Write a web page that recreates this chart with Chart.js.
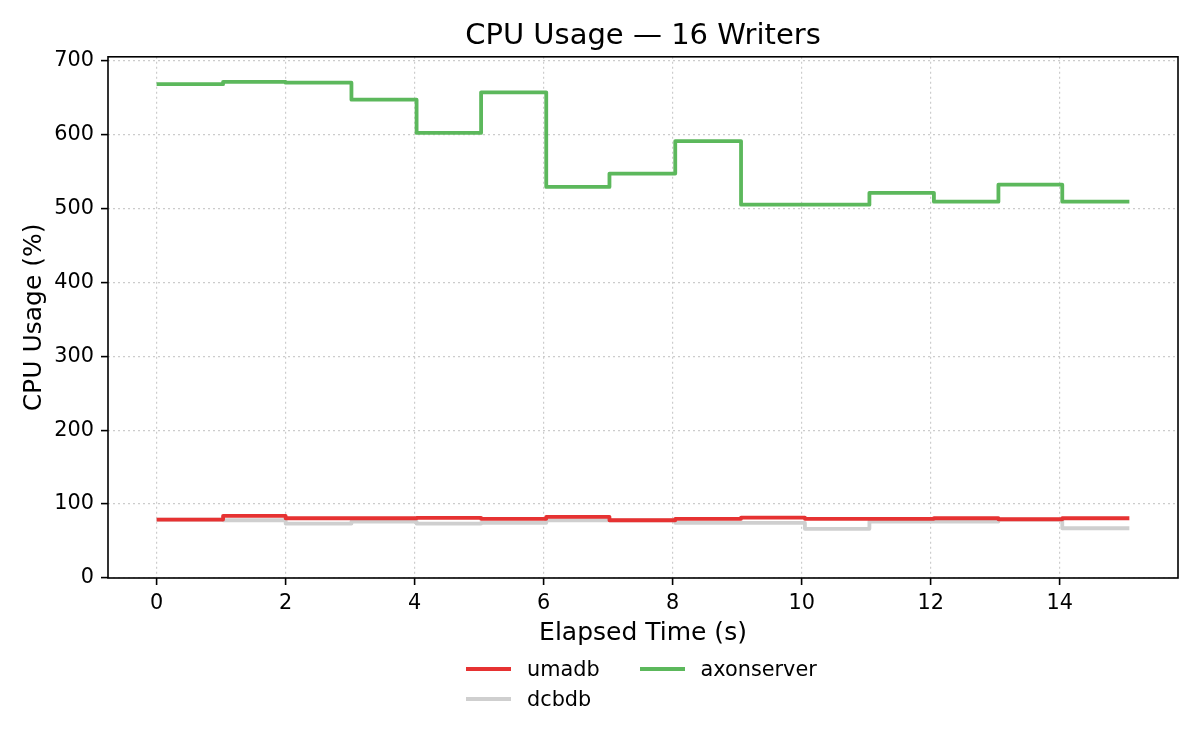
<!DOCTYPE html>
<html>
<head>
<meta charset="utf-8">
<script src="https://cdn.jsdelivr.net/npm/chart.js@4.4.1/dist/chart.umd.min.js"></script>
<style>
    html, body { margin: 0; padding: 0; background: #fff; }
    #chartContainer { position: relative; width: 1200px; height: 750px; }
    #legend {
        position: absolute; left: 466px; top: 654px;
        display: grid; grid-auto-flow: column; grid-template-rows: 30px 30px; column-gap: 40px;
        font-family: "DejaVu Sans", sans-serif; font-size: 20.8px; color: #000;
    }
    .item { display: flex; align-items: center; }
    .swatch { width: 45px; height: 4px; margin-right: 16px; }
</style>
</head>
<body>
<div id="chartContainer">
    <canvas id="myChart" width="1200" height="750"></canvas>
    <div id="legend"></div>
</div>
<script>
// sample times (s) and CPU usage (%)
const seconds = [0, 1.03, 2.0, 3.02, 4.03, 5.03, 6.04, 7.02, 8.04, 9.06, 10.05, 11.05, 12.05, 13.05, 14.04, 15.08];
const umadb = [79, 84, 80.8, 80.8, 81.3, 80, 82.7, 78.1, 80, 81.8, 80, 80, 80.8, 79.5, 80.8, 80.8];
const dcbdb = [79, 78.1, 73.6, 76.4, 73.6, 74.6, 78.1, 78, 74.6, 74.6, 66.5, 76.4, 76.4, 79, 67.3, 67.3];
const axonserver = [668, 671, 670, 647, 602, 657, 529, 547, 591, 505, 505, 521, 509, 532, 509, 509];
const xTicks = [0, 2, 4, 6, 8, 10, 12, 14];
const yTicks = [0, 100, 200, 300, 400, 500, 600, 700];

const font = "DejaVu Sans";

const toPoints = (values) => values.map((v, i) => ({ x: seconds[i], y: v }));

const series = (label, values, color, order) => ({
    label: label,
    data: toPoints(values),
    borderColor: color,
    backgroundColor: color,
    borderWidth: 3.8,
    pointRadius: 0,
    stepped: "before",
    borderJoinStyle: "round",
    fill: false,
    order: order,
});

const frame = {
    id: "frame",
    afterDatasetsDraw(chart) {
        const { ctx, chartArea: a } = chart;
        ctx.save();
        ctx.strokeStyle = "#000";
        ctx.lineWidth = 1.6;
        ctx.strokeRect(a.left, a.top, a.right - a.left, a.bottom - a.top);
        ctx.restore();
    },
};

const gridOpts = {
    color: "#cccccc",
    lineWidth: 1.2,
    tickColor: "#000",
    tickWidth: 1.6,
    tickLength: 7,
    tickBorderDash: [],
};

// in v4 the grid line dash lives under border
const borderOpts = { display: false, dash: [2, 3] };

const ctx = document.getElementById("myChart");
const myChart = new Chart(ctx, {
    type: "line",
    data: {
        datasets: [
            series("umadb", umadb, "#e63232", 0),
            series("dcbdb", dcbdb, "#cfcfcf", 2),
            series("axonserver", axonserver, "#5cb85c", 1),
        ],
    },
    options: {
        responsive: false,
        animation: false,
        devicePixelRatio: 1,
        layout: { padding: { top: 0, left: 0, right: 22, bottom: 102 } },
        scales: {
            x: {
                type: "linear",
                min: -0.754,
                max: 15.834,
                afterBuildTicks: (s) => { s.ticks = xTicks.map((v) => ({ value: v })); },
                afterFit: (s) => { s.height = 70; },
                grid: gridOpts,
                border: borderOpts,
                ticks: { color: "#000", padding: 6, font: { family: font, size: 20.8 } },
                title: {
                    display: true,
                    text: "Elapsed Time (s)",
                    color: "#000",
                    padding: { top: 0, bottom: 0 },
                    font: { family: font, size: 25 },
                },
            },
            y: {
                min: 0,
                max: 705,
                afterBuildTicks: (s) => { s.ticks = yTicks.map((v) => ({ value: v })); },
                afterFit: (s) => { s.width = 108; },
                grid: gridOpts,
                border: borderOpts,
                ticks: { color: "#000", padding: 7, font: { family: font, size: 20.8 } },
                title: {
                    display: true,
                    text: "CPU Usage (%)",
                    color: "#000",
                    padding: { top: 19, bottom: 0 },
                    font: { family: font, size: 25 },
                },
            },
        },
        plugins: {
            legend: { display: false },
            tooltip: { enabled: false },
            title: {
                display: true,
                text: "CPU Usage — 16 Writers",
                color: "#000",
                fullSize: false,
                padding: { top: 19, bottom: 3 },
                font: { family: font, size: 29, weight: "normal" },
            },
        },
    },
    plugins: [frame],
});

// legend below the axis, two rows filled column by column
const legendBox = document.getElementById("legend");
myChart.data.datasets.forEach((dataset) => {
    const item = document.createElement("div");
    item.className = "item";
    const swatch = document.createElement("span");
    swatch.className = "swatch";
    swatch.style.background = dataset.borderColor;
    const text = document.createElement("span");
    text.innerText = dataset.label;
    item.appendChild(swatch);
    item.appendChild(text);
    legendBox.appendChild(item);
});
</script>
</body>
</html>
